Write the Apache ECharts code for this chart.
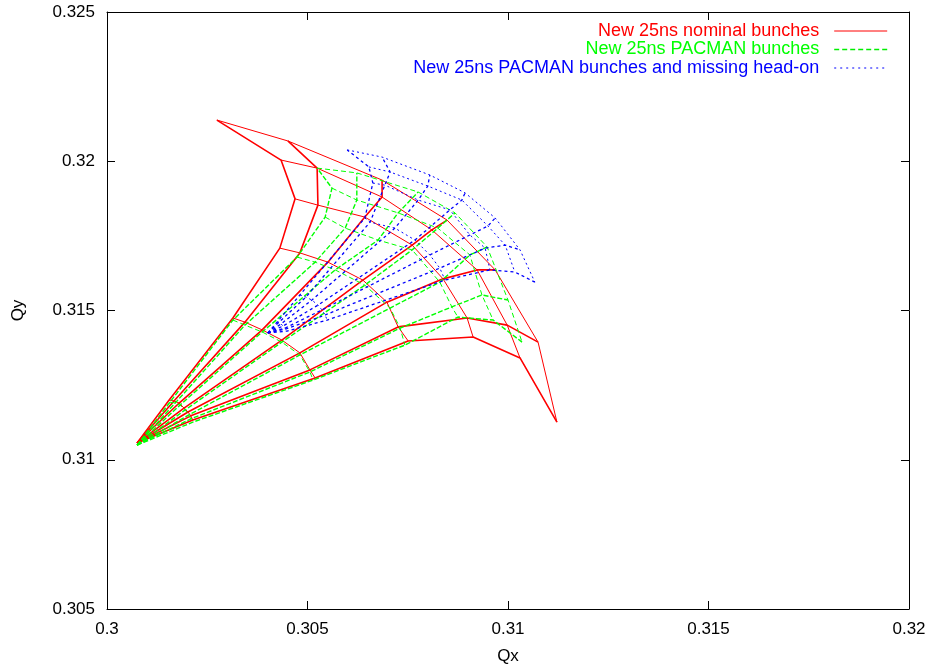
<!DOCTYPE html>
<html>
<head>
<meta charset="utf-8">
<script src="https://cdn.jsdelivr.net/npm/echarts@6/dist/echarts.min.js"></script>
<style>
html, body { margin: 0; padding: 0; background: #fff; }
#main { width: 933px; height: 670px; }
</style>
</head>
<body>
<div id="main"></div>
<script>
// footprint meshes: rows = radial lines (amplitude ratio), columns = amplitude (0 = nominal tune)
var nominalName = 'New 25ns nominal bunches';
var pacmanName = 'New 25ns PACMAN bunches';
var headonName = 'New 25ns PACMAN bunches and missing head-on';

var nominalQx = [
    [0.30075, 0.30155, 0.30314, 0.30431, 0.30469, 0.30434, 0.30274],
    [0.30075, 0.30167, 0.30344, 0.30481, 0.30526, 0.30524, 0.30451],
    [0.30075, 0.30180, 0.30387, 0.30551, 0.30643, 0.30686, 0.30686],
    [0.30075, 0.30192, 0.30436, 0.30638, 0.30761, 0.30810, 0.30848],
    [0.30075, 0.30202, 0.30481, 0.30698, 0.30838, 0.30923, 0.30968],
    [0.30075, 0.30209, 0.30506, 0.30726, 0.30898, 0.30998, 0.31075],
    [0.30075, 0.30214, 0.30519, 0.30751, 0.30913, 0.31030, 0.31122]
];
var nominalQy = [
    [0.31056, 0.31200, 0.31475, 0.31709, 0.31874, 0.32004, 0.32138],
    [0.31056, 0.31197, 0.31461, 0.31693, 0.31853, 0.31977, 0.32068],
    [0.31056, 0.31190, 0.31435, 0.31662, 0.31813, 0.31880, 0.31937],
    [0.31056, 0.31173, 0.31401, 0.31602, 0.31719, 0.31770, 0.31803],
    [0.31056, 0.31160, 0.31358, 0.31528, 0.31606, 0.31636, 0.31636],
    [0.31056, 0.31147, 0.31301, 0.31445, 0.31475, 0.31451, 0.31394],
    [0.31056, 0.31133, 0.31274, 0.31398, 0.31411, 0.31341, 0.31126]
];

var pacmanQx = [
    [0.30075, 0.30157, 0.30314, 0.30474, 0.30544, 0.30561, 0.30524],
    [0.30075, 0.30170, 0.30344, 0.30519, 0.30594, 0.30623, 0.30623],
    [0.30075, 0.30182, 0.30387, 0.30569, 0.30676, 0.30726, 0.30776],
    [0.30075, 0.30195, 0.30436, 0.30643, 0.30761, 0.30825, 0.30868],
    [0.30075, 0.30204, 0.30481, 0.30706, 0.30830, 0.30905, 0.30948],
    [0.30075, 0.30209, 0.30506, 0.30731, 0.30860, 0.30935, 0.31000],
    [0.30075, 0.30214, 0.30514, 0.30743, 0.30875, 0.30963, 0.31035]
];
var pacmanQy = [
    [0.31049, 0.31193, 0.31468, 0.31679, 0.31813, 0.31910, 0.31977],
    [0.31049, 0.31190, 0.31451, 0.31662, 0.31776, 0.31870, 0.31961],
    [0.31049, 0.31183, 0.31428, 0.31636, 0.31736, 0.31827, 0.31897],
    [0.31049, 0.31167, 0.31394, 0.31585, 0.31703, 0.31776, 0.31827],
    [0.31049, 0.31150, 0.31351, 0.31508, 0.31595, 0.31686, 0.31713],
    [0.31049, 0.31137, 0.31294, 0.31441, 0.31512, 0.31552, 0.31535],
    [0.31049, 0.31126, 0.31267, 0.31384, 0.31478, 0.31468, 0.31394]
];

var headonQx = [
    [0.30401, 0.30424, 0.30481, 0.30643, 0.30663, 0.30653, 0.30599],
    [0.30401, 0.30429, 0.30496, 0.30656, 0.30693, 0.30706, 0.30686],
    [0.30401, 0.30434, 0.30511, 0.30718, 0.30776, 0.30800, 0.30805],
    [0.30401, 0.30439, 0.30526, 0.30768, 0.30855, 0.30885, 0.30893],
    [0.30401, 0.30444, 0.30536, 0.30805, 0.30905, 0.30950, 0.30968],
    [0.30401, 0.30446, 0.30544, 0.30830, 0.30943, 0.30993, 0.31030],
    [0.30401, 0.30449, 0.30549, 0.30843, 0.30955, 0.31017, 0.31067]
];
var headonQy = [
    [0.31425, 0.31461, 0.31552, 0.31810, 0.31927, 0.31981, 0.32038],
    [0.31425, 0.31461, 0.31545, 0.31796, 0.31920, 0.31964, 0.32014],
    [0.31425, 0.31455, 0.31535, 0.31776, 0.31870, 0.31917, 0.31954],
    [0.31425, 0.31448, 0.31518, 0.31736, 0.31837, 0.31870, 0.31894],
    [0.31425, 0.31441, 0.31502, 0.31686, 0.31753, 0.31783, 0.31810],
    [0.31425, 0.31438, 0.31485, 0.31642, 0.31709, 0.31719, 0.31703],
    [0.31425, 0.31431, 0.31468, 0.31602, 0.31636, 0.31629, 0.31595]
];

var xTicks = [0.3, 0.32, 0.005];
var yTicks = [0.305, 0.325, 0.005];

function mesh(name, qx, qy, color, arcType, radType, radWidth) {
    var out = [];
    // lines of constant amplitude (thin)
    for (var j = 1; j < qx[0].length; j++) {
        var pts = [];
        for (var i = 0; i < qx.length; i++) pts.push([qx[i][j], qy[i][j]]);
        out.push({
            name: name, type: 'line', data: pts, symbol: 'none', silent: true,
            color: color,
            lineStyle: { color: color, width: 1, type: arcType }
        });
    }
    // lines of constant angle from the bare tune
    for (var i = 0; i < qx.length; i++) {
        var pts = [];
        for (var j = 0; j < qx[i].length; j++) pts.push([qx[i][j], qy[i][j]]);
        out.push({
            name: name, type: 'line', data: pts, symbol: 'none', silent: true,
            color: color,
            lineStyle: { color: color, width: radWidth, type: radType }
        });
    }
    return out;
}

var series = []
    .concat(mesh(nominalName, nominalQx, nominalQy, '#ff0000', 'solid', 'solid', 1.6))
    .concat(mesh(pacmanName, pacmanQx, pacmanQy, '#00ff00', [5, 3], [5, 2], 1.4))
    .concat(mesh(headonName, headonQx, headonQy, '#0000ff', [2, 3], [3, 3], 1.3));

var font = 'Liberation Sans, Arial, Helvetica, sans-serif';

function axisX(pos, show) {
    return {
        type: 'value', position: pos, min: xTicks[0], max: xTicks[1], interval: xTicks[2],
        name: show ? 'Qx' : '', nameLocation: 'middle', nameGap: 39,
        nameTextStyle: { color: '#000', fontSize: 17, fontFamily: font },
        axisLine: { show: true, lineStyle: { color: '#000', width: 1 } },
        axisTick: { show: true, inside: true, length: 8, lineStyle: { color: '#000' } },
        axisLabel: { show: show, color: '#000', fontSize: 17, fontFamily: font, margin: 12 },
        splitLine: { show: false }
    };
}
function axisY(pos, show) {
    return {
        type: 'value', position: pos, min: yTicks[0], max: yTicks[1], interval: yTicks[2],
        name: show ? 'Qy' : '', nameLocation: 'middle', nameGap: 80,
        nameTextStyle: { color: '#000', fontSize: 17, fontFamily: font },
        axisLine: { show: true, lineStyle: { color: '#000', width: 1 } },
        axisTick: { show: true, inside: true, length: 8, lineStyle: { color: '#000' } },
        axisLabel: { show: show, color: '#000', fontSize: 17, fontFamily: font, margin: 12 },
        splitLine: { show: false }
    };
}

var myChart = echarts.init(document.getElementById('main'));
var option = {
    animation: false,
    backgroundColor: '#fff',
    grid: { left: 107, right: 24, top: 12, bottom: 61 },
    legend: {
        orient: 'vertical',
        right: 45,
        top: 22,
        padding: 0,
        align: 'right',
        itemWidth: 53,
        itemHeight: 13,
        itemGap: 0.5,
        selectedMode: false,
        itemStyle: { opacity: 0 },
        formatter: function (n) { return n + '\u00a0\u00a0'; },
        textStyle: { fontSize: 18, fontFamily: font },
        data: [
            { name: nominalName, textStyle: { color: '#ff0000' },
              lineStyle: { color: '#ff0000', width: 1, type: 'solid' } },
            { name: pacmanName, textStyle: { color: '#00ff00' },
              lineStyle: { color: '#00ee00', width: 1.6, type: [5, 3] } },
            { name: headonName, textStyle: { color: '#0000ff' },
              lineStyle: { color: '#0000ff', width: 1.2, type: [2, 4] } }
        ]
    },
    xAxis: [axisX('bottom', true), axisX('top', false)],
    yAxis: [axisY('left', true), axisY('right', false)],
    series: series
};
myChart.setOption(option);
</script>
</body>
</html>
